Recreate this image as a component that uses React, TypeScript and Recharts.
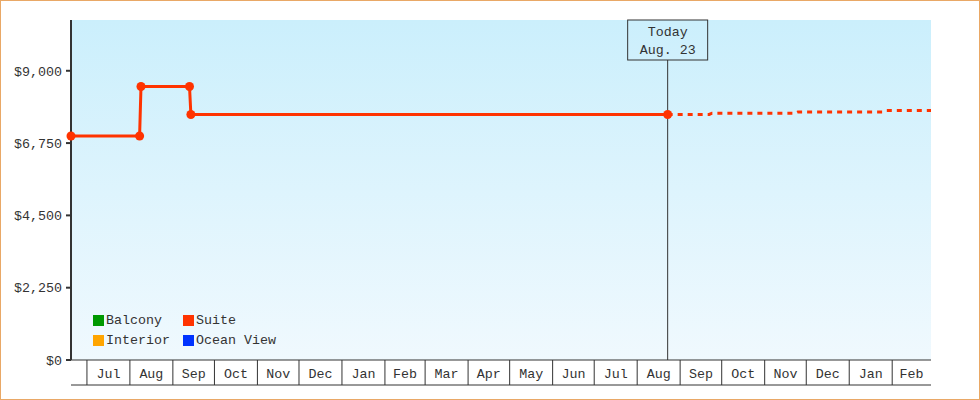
import React from 'react';
import { LineChart, Line, XAxis, YAxis, CartesianGrid, ReferenceLine, Legend } from 'recharts';

const FONT = "'Liberation Mono', 'DejaVu Sans Mono', monospace";
const INK = '#333333';

const SERIES_NAMES = ['Balcony', 'Suite', 'Interior', 'Ocean View'];
const SERIES_COLORS = ['#009900', '#ff3300', '#ffa500', '#0033ff'];

// axis range and the month grid below the plot
const DOMAIN_START = '2023-06-19T12:00:00Z';
const DOMAIN_END = '2025-03-01T00:00:00Z';
const MONTH_EDGES = [
  '2023-07-01', '2023-08-01', '2023-09-01', '2023-10-01', '2023-11-01', '2023-12-01',
  '2024-01-01', '2024-02-01', '2024-03-01', '2024-04-01', '2024-05-01', '2024-06-01',
  '2024-07-01', '2024-08-01', '2024-09-01', '2024-10-01', '2024-11-01', '2024-12-01',
  '2025-01-01', '2025-02-01', '2025-03-01',
];
const MONTH_LABELS = [
  'Jul', 'Aug', 'Sep', 'Oct', 'Nov', 'Dec', 'Jan', 'Feb', 'Mar', 'Apr',
  'May', 'Jun', 'Jul', 'Aug', 'Sep', 'Oct', 'Nov', 'Dec', 'Jan', 'Feb',
];
const PRICE_TICKS = [0, 2250, 4500, 6750, 9000];
const PRICE_MAX = 10580;

const TODAY = '2024-08-23';
const TODAY_LABEL = ['Today', 'Aug. 23'];

// Suite price history (solid, with dots)
const SUITE_DATES = [
  '2023-06-19T12:00:00Z', '2023-08-08', '2023-08-09', '2023-09-13', '2023-09-14', '2024-08-23',
];
const SUITE_PRICES = [6970, 6970, 8510, 8510, 7640, 7640];

// Suite projection after today (dashed)
const FORECAST_DATES = [
  '2024-08-23', '2024-09-22', '2024-09-24', '2024-11-23', '2024-11-25',
  '2025-01-26', '2025-01-28', '2025-03-01',
];
const FORECAST_PRICES = [7640, 7640, 7680, 7680, 7720, 7720, 7760, 7760];

const t = (s: string) => new Date(s.length === 10 ? s + 'T00:00:00Z' : s).getTime();

const historyData = SUITE_DATES.map((d, i) => ({ date: t(d), price: SUITE_PRICES[i] }));
const forecastData = FORECAST_DATES.map((d, i) => ({ date: t(d), price: FORECAST_PRICES[i] }));

const edgeTimes = MONTH_EDGES.map(t);
const boundaries = edgeTimes.slice(0, -1);
const midpoints = boundaries.map((b, i) => (b + edgeTimes[i + 1]) / 2);
const labelByMid: Record<number, string> = {};
midpoints.forEach((m, i) => { labelByMid[m] = MONTH_LABELS[i]; });
const xTicks = [...boundaries, ...midpoints].sort((a, b) => a - b);

const MonthTick = ({ x, y, payload }: any) => {
  const label = labelByMid[payload.value];
  if (label === undefined) {
    return <line x1={x} y1={y} x2={x} y2={y + 25} stroke={INK} strokeWidth={1} />;
  }
  return (
    <text x={x} y={y + 18} textAnchor="middle" fill={INK} fontFamily={FONT} fontSize={13.33}>
      {label}
    </text>
  );
};

const TodayLabel = ({ viewBox }: any) => {
  if (!viewBox) return null;
  const cx = viewBox.x;
  const top = viewBox.y;
  return (
    <g>
      <rect x={cx - 40} y={top} width={80} height={40} fill="url(#boxBg)" stroke={INK} strokeWidth={1} />
      <text x={cx} y={top + 16} textAnchor="middle" fill={INK} fontFamily={FONT} fontSize={13.33}>
        {TODAY_LABEL[0]}
      </text>
      <text x={cx} y={top + 34} textAnchor="middle" fill={INK} fontFamily={FONT} fontSize={13.33}>
        {TODAY_LABEL[1]}
      </text>
    </g>
  );
};

const LegendGrid = ({ payload }: any) => {
  const items = (payload || [])
    .filter((p: any) => SERIES_NAMES.includes(p.value))
    .sort((a: any, b: any) => SERIES_NAMES.indexOf(a.value) - SERIES_NAMES.indexOf(b.value));
  return (
    <div style={{ display: 'grid', gridTemplateColumns: '90px auto', rowGap: 7, fontFamily: FONT, fontSize: 13.33, color: INK }}>
      {items.map((p: any) => (
        <div key={p.value} style={{ display: 'flex', alignItems: 'center', height: 13, whiteSpace: 'nowrap' }}>
          <span style={{ width: 11, height: 11, background: p.color, marginRight: 2, display: 'inline-block' }} />
          {p.value}
        </div>
      ))}
    </div>
  );
};

export default function App() {
  return (
    <div style={{ position: 'absolute', left: 0, top: 0, width: 980, height: 400, background: '#fff' }}>
      <LineChart
        width={980}
        height={400}
        margin={{ top: 20, right: 49, left: 11, bottom: 14 }}
      >
        <defs>
          <linearGradient id="bg" x1="0" y1="0" x2="0" y2="1">
            <stop offset="0%" stopColor="#cbeffc" />
            <stop offset="100%" stopColor="#f0f9fe" />
          </linearGradient>
          <linearGradient id="boxBg" x1="0" y1="0" x2="0" y2="1">
            <stop offset="0%" stopColor="#cbeffc" />
            <stop offset="100%" stopColor="#d0f0fc" />
          </linearGradient>
        </defs>
        <CartesianGrid horizontal={false} vertical={false} fill="url(#bg)" />
        <XAxis
          dataKey="date"
          type="number"
          scale="time"
          domain={[t(DOMAIN_START), t(DOMAIN_END)]}
          ticks={xTicks}
          interval={0}
          tick={<MonthTick />}
          tickLine={false}
          tickSize={0}
          tickMargin={0}
          height={25}
          axisLine={{ stroke: INK, strokeWidth: 1 }}
        />
        <XAxis
          xAxisId="base"
          dataKey="date"
          type="number"
          domain={[t(DOMAIN_START), t(DOMAIN_END)]}
          tick={false}
          tickLine={false}
          height={1}
          axisLine={{ stroke: INK, strokeWidth: 1 }}
        />
        <YAxis
          type="number"
          domain={[0, PRICE_MAX]}
          ticks={PRICE_TICKS}
          interval={0}
          width={60}
          tickSize={5}
          tickMargin={4}
          tickFormatter={(v: number) => `$${v.toLocaleString('en-US')}`}
          tick={{ fill: INK, fontFamily: FONT, fontSize: 13.33 }}
          tickLine={{ stroke: INK, strokeWidth: 2 }}
          axisLine={{ stroke: INK, strokeWidth: 2 }}
        />
        <ReferenceLine
          x={t(TODAY)}
          stroke={INK}
          strokeWidth={1}
          label={<TodayLabel />}
        />
        {SERIES_NAMES.map((name, i) =>
          name === 'Suite' ? (
            <Line
              key={name}
              data={historyData}
              dataKey="price"
              name={name}
              type="linear"
              stroke={SERIES_COLORS[i]}
              strokeWidth={3}
              dot={{ r: 4.5, fill: SERIES_COLORS[i], stroke: 'none' }}
              activeDot={false}
              isAnimationActive={false}
            />
          ) : (
            <Line
              key={name}
              data={[]}
              dataKey="price"
              name={name}
              stroke={SERIES_COLORS[i]}
              dot={false}
              isAnimationActive={false}
            />
          )
        )}
        <Line
          data={forecastData}
          dataKey="price"
          name="Suite forecast"
          type="linear"
          stroke={SERIES_COLORS[1]}
          strokeWidth={3}
          strokeDasharray="5 5"
          dot={false}
          activeDot={false}
          legendType="none"
          isAnimationActive={false}
        />
        <Legend
          layout="horizontal"
          verticalAlign="middle"
          align="center"
          content={<LegendGrid />}
          wrapperStyle={{ left: 93, top: 314, width: 220 }}
        />
      </LineChart>
      <div
        style={{
          position: 'absolute', inset: 0, border: '1px solid #e9a866', pointerEvents: 'none',
        }}
      />
    </div>
  );
}
